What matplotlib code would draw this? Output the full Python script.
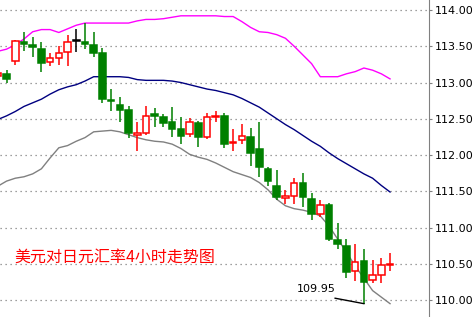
import matplotlib
matplotlib.use('Agg')
from matplotlib import pyplot as plt

# 4h candles, index 0 is cut at the left edge
opens = [113.09, 113.12, 113.30, 113.56, 113.52, 113.46, 113.28, 113.34, 113.42, 113.57,
         113.56, 113.52, 113.41, 112.76, 112.69, 112.62, 112.28, 112.30, 112.56, 112.52,
         112.45, 112.36, 112.29, 112.44, 112.25, 112.52, 112.54, 112.16, 112.21, 112.25,
         112.08, 111.81, 111.57, 111.41, 111.43, 111.61, 111.39, 111.18, 111.31, 110.83,
         110.74, 110.40, 110.54, 110.28, 110.35, 110.48]
highs = [113.15, 113.17, 113.59, 113.70, 113.63, 113.56, 113.41, 113.50, 113.66, 113.74,
         113.82, 113.70, 113.48, 112.91, 112.80, 112.67, 112.45, 112.68, 112.65, 112.56,
         112.66, 112.52, 112.51, 112.47, 112.58, 112.61, 112.58, 112.36, 112.43, 112.37,
         112.45, 111.83, 111.79, 111.52, 111.68, 111.75, 111.47, 111.38, 111.34, 111.06,
         110.84, 110.77, 110.70, 110.55, 110.58, 110.65]
lows = [113.05, 113.00, 113.24, 113.43, 113.35, 113.15, 113.23, 113.24, 113.23, 113.42,
        113.46, 113.35, 112.72, 112.61, 112.45, 112.23, 112.06, 112.27, 112.39, 112.39,
        112.25, 112.15, 112.25, 112.11, 112.22, 112.46, 112.10, 112.06, 112.15, 111.85,
        111.69, 111.57, 111.38, 111.32, 111.32, 111.28, 111.10, 111.14, 110.81, 110.70,
        110.30, 110.26, 109.95, 110.24, 110.24, 110.40]
closes = [113.13, 113.05, 113.57, 113.53, 113.49, 113.27, 113.34, 113.41, 113.56, 113.57,
          113.53, 113.41, 112.77, 112.74, 112.62, 112.30, 112.30, 112.54, 112.54, 112.44,
          112.36, 112.26, 112.45, 112.25, 112.52, 112.54, 112.15, 112.18, 112.26, 112.03,
          111.83, 111.64, 111.42, 111.43, 111.61, 111.42, 111.18, 111.31, 110.84, 110.77,
          110.38, 110.52, 110.25, 110.35, 110.48, 110.50]

# bollinger bands
upper_band = [113.43, 113.46, 113.52, 113.60, 113.70, 113.73, 113.73, 113.69, 113.74, 113.79,
              113.82, 113.82, 113.82, 113.82, 113.82, 113.82, 113.85, 113.87, 113.87, 113.88,
              113.90, 113.92, 113.92, 113.92, 113.92, 113.92, 113.91, 113.91, 113.84, 113.76,
              113.70, 113.69, 113.66, 113.61, 113.50, 113.38, 113.26, 113.08, 113.08, 113.08,
              113.12, 113.15, 113.20, 113.17, 113.12, 113.05]
middle_band = [112.49, 112.54, 112.60, 112.67, 112.72, 112.77, 112.84, 112.90, 112.94, 112.97,
               113.02, 113.08, 113.08, 113.08, 113.08, 113.07, 113.04, 113.03, 113.03, 113.03,
               113.02, 113.00, 112.97, 112.94, 112.91, 112.89, 112.86, 112.83, 112.78, 112.72,
               112.66, 112.58, 112.50, 112.42, 112.35, 112.27, 112.19, 112.12, 112.03, 111.95,
               111.88, 111.81, 111.74, 111.68, 111.58, 111.49]
lower_band = [111.57, 111.64, 111.68, 111.70, 111.74, 111.81, 111.96, 112.10, 112.13, 112.19,
              112.24, 112.32, 112.33, 112.34, 112.32, 112.28, 112.24, 112.21, 112.19, 112.18,
              112.15, 112.09, 112.01, 111.97, 111.94, 111.89, 111.83, 111.77, 111.73, 111.69,
              111.62, 111.52, 111.39, 111.30, 111.26, 111.24, 111.21, 111.16, 111.02, 110.84,
              110.66, 110.47, 110.30, 110.13, 110.04, 109.95]

y_ticks = [110.0, 110.5, 111.0, 111.5, 112.0, 112.5, 113.0, 113.5, 114.0]
title_text = '美元对日元汇率4小时走势图'
low_label = '109.95'
low_index = 42

GREEN = '#008000'
RED = '#ff0000'


def candle_colour(o, c):
    if c > o:
        return RED
    if c < o:
        return GREEN
    return 'black'


def draw_candles(ax):
    x = list(range(len(opens)))
    for i in x:
        o, h, l, c = opens[i], highs[i], lows[i], closes[i]
        col = candle_colour(o, c)
        ax.vlines(i, l, h, color=col, linewidth=1.1, zorder=3)
        bottom = min(o, c)
        height = max(abs(c - o), 0.012)
        face = 'white' if c > o else col
        ax.bar(i, height, bottom=bottom, width=0.75, color=face, edgecolor=col,
               linewidth=1.1, zorder=4)


plt.rcParams['font.family'] = ['DejaVu Sans']
fig = plt.figure(figsize=(4.73, 3.17), dpi=100)
ax = fig.add_axes([0, 0, 429 / 473, 1])

x = list(range(len(opens)))
ax.plot(x, upper_band, color='#ff00ff', linewidth=1, zorder=2)
ax.plot(x, middle_band, color='#000080', linewidth=1, zorder=2)
ax.plot(x, lower_band, color='#808080', linewidth=1, zorder=2)
draw_candles(ax)

for t in y_ticks:
    ax.axhline(t, color='#808080', linewidth=0.9, linestyle=(0, (1, 3)), zorder=1)

ax.set_xlim(0.25, 49.47)
ax.set_ylim(109.766, 114.138)
ax.yaxis.tick_right()
ax.set_yticks(y_ticks)
ax.set_yticklabels([f'{t:.2f}' for t in y_ticks])
ax.tick_params(axis='y', length=2, pad=2, labelsize=8, colors='#808080', labelcolor='black')
ax.set_xticks([])
for side in ['top', 'left', 'bottom']:
    ax.spines[side].set_visible(False)
ax.spines['right'].set_color('#808080')

ax.text(1.86, 110.59, title_text, color=RED, fontsize=11.5, va='center', ha='left',
        family=['Noto Sans CJK SC', 'DejaVu Sans'])
ax.text(34.3, 110.15, low_label, color='black', fontsize=8, va='center', ha='left')
ax.plot([38.7, low_index], [110.025, lows[low_index]], color='black', linewidth=1, zorder=5)

fig.savefig('out.png', dpi=100)
